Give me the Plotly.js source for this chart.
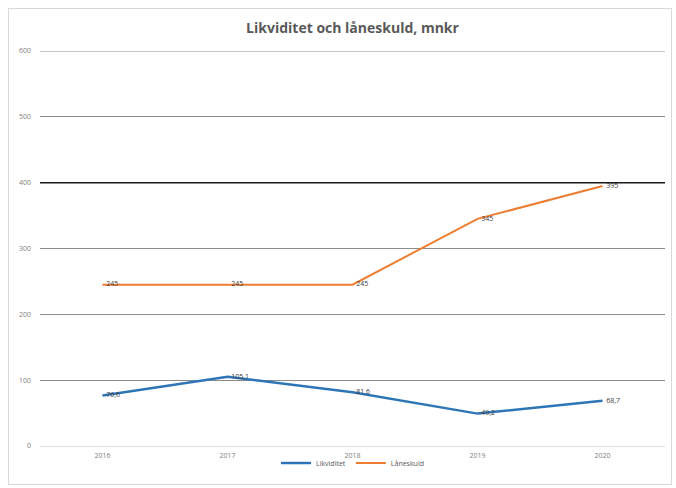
<!DOCTYPE html>
<html>
<head>
<meta charset="utf-8">
<script src="https://cdn.plot.ly/plotly-3.0.1.min.js"></script>
<style>
  html, body { margin: 0; padding: 0; background: #fff; }
  #wrap { position: relative; width: 676px; height: 488px; }
  #chart { width: 676px; height: 488px; }
  #frame { position: absolute; left: 8px; top: 8px; width: 664px; height: 477px; border: 1px solid #d9d9d9; pointer-events: none; box-sizing: border-box; }
</style>
</head>
<body>
<div id="wrap"><div id="chart"></div><div id="frame"></div></div>
<script>
const years = ["2016", "2017", "2018", "2019", "2020"];
const likviditet = [76.6, 105.1, 81.6, 49.2, 68.7];
const laneskuld = [245, 245, 245, 345, 395];
const likviditetLabels = ["76,6", "105,1", "81,6", "49,2", "68,7"];
const laneskuldLabels = ["245", "245", "245", "345", "395"];
const yTicks = [0, 100, 200, 300, 400, 500, 600];

const labelFont = { family: "Open Sans, DejaVu Sans, sans-serif", size: 7, color: "#404040" };

const traces = [
  {
    x: years, y: likviditet, name: "Likviditet", type: "scatter", mode: "lines+text",
    line: { color: "#2E75B6", width: 2.5 },
    text: likviditetLabels.map(t => "  " + t), textposition: "middle right", textfont: labelFont,
    cliponaxis: false
  },
  {
    x: years, y: laneskuld, name: "Låneskuld", type: "scatter", mode: "lines+text",
    line: { color: "#ED7D31", width: 2 },
    text: laneskuldLabels.map(t => "  " + t), textposition: "middle right", textfont: labelFont,
    cliponaxis: false
  }
];

const layout = {
  width: 676, height: 488,
  margin: { l: 40, r: 11, t: 51, b: 35 },
  paper_bgcolor: "#ffffff", plot_bgcolor: "#ffffff",
  title: {
    text: "<b>Likviditet och låneskuld, mnkr</b>",
    font: { family: "Open Sans, DejaVu Sans, sans-serif", size: 14, color: "#595959" },
    x: 0.5, xanchor: "center", xref: "paper", y: 1 - 28 / 488, yanchor: "middle", yref: "container"
  },
  xaxis: {
    type: "category", range: [-0.5, 4.5], showgrid: false, zeroline: false,
    showline: false, ticks: "", fixedrange: true, ticklabelstandoff: 4,
    tickfont: { family: "Open Sans, DejaVu Sans, sans-serif", size: 7, color: "#808080" }
  },
  yaxis: {
    range: [0, 600], tickvals: yTicks, ticktext: yTicks.map(String),
    showgrid: true, gridcolor: "#8c8c8c", gridwidth: 1,
    zeroline: true, zerolinecolor: "#e0e0e0", zerolinewidth: 1,
    showline: false, ticks: "", ticklabelstandoff: 8,
    tickfont: { family: "Open Sans, DejaVu Sans, sans-serif", size: 7, color: "#808080" }
  },
  shapes: [
    { type: "line", xref: "paper", yref: "y", x0: 0, x1: 1, y0: 600, y1: 600,
      line: { color: "#8c8c8c", width: 1 } },
    { type: "line", xref: "paper", yref: "y", x0: 0, x1: 1, y0: 400, y1: 400,
      line: { color: "#1a1a1a", width: 1.5 } }
  ],
  showlegend: true,
  legend: {
    orientation: "h", x: 0.5, xanchor: "center", y: -0.043, yanchor: "middle",
    font: { family: "Open Sans, DejaVu Sans, sans-serif", size: 7, color: "#595959" },
    bgcolor: "rgba(0,0,0,0)", itemwidth: 30, tracegroupgap: 0
  }
};

Plotly.newPlot("chart", traces, layout, { displayModeBar: false, staticPlot: true });
</script>
</body>
</html>
